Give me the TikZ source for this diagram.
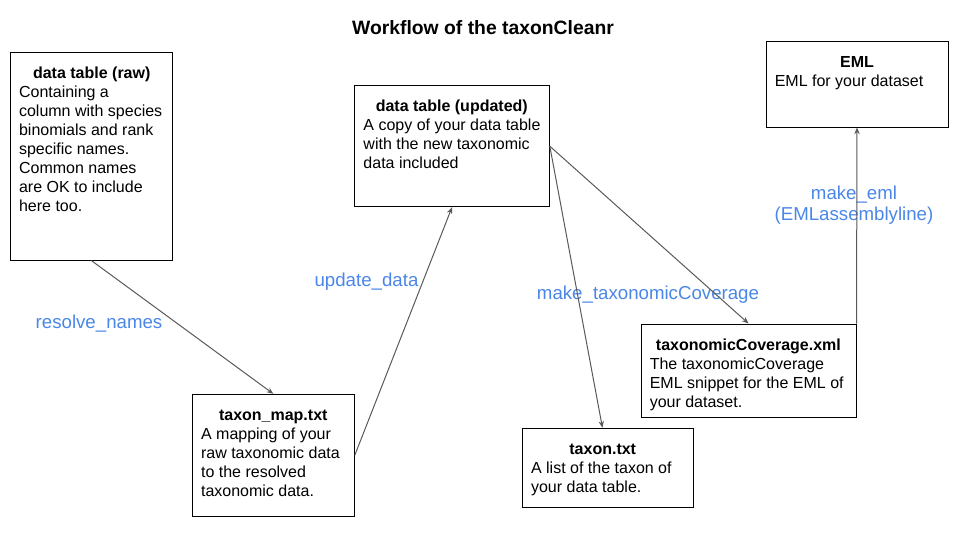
\documentclass[tikz,border=0pt]{standalone}
\usepackage{fontspec}
\setmainfont{Liberation Sans}
\usetikzlibrary{arrows.meta,fit}
\definecolor{fnblue}{RGB}{74,134,232}
\definecolor{edgegray}{RGB}{89,89,89}
\tikzset{
  box/.style={draw, line width=0.75pt, inner sep=0pt},
  txt/.style={anchor=north west, inner sep=0pt, align=left,
    font=\fontsize{12pt}{14.25pt}\selectfont},
  lbl/.style={text=fnblue, inner sep=0pt, align=center,
    font=\fontsize{14pt}{15.75pt}\selectfont},
  edge/.style={draw=edgegray, line width=0.75pt,
    -{Stealth[length=5pt,width=4pt]}}
}
\begin{document}
\begin{tikzpicture}[x=0.75pt, y=-0.75pt]
  \useasboundingbox (0,0) rectangle (960,540);
  \node[font=\fontsize{14.5pt}{17pt}\selectfont\bfseries] (title) at (483,28) {Workflow of the taxonCleanr};
  % boxes
  \node[box, fit={(10.3,52.3) (172.3,260)}] (raw) {};
  \node[box, fit={(354.7,85.7) (549.3,206.7)}] (updated) {};
  \node[box, fit={(192.3,394.3) (354.3,516)}] (map) {};
  \node[box, fit={(522.3,428.3) (693.3,507.3)}] (taxon) {};
  \node[box, fit={(641,324) (856,417)}] (taxcov) {};
  \node[box, fit={(766,41) (948,127)}] (eml) {};
  % box texts
  \node[txt] (rawtxt) at ([shift={(9,13)}]raw.north west)
    {\makebox[109pt]{\strut\bfseries data table (raw)}\\
     Containing a\\ column with species\\ binomials and rank\\
     specific names.\\ Common names\\ are OK to include\\ here too.};
  \node[txt] (updatedtxt) at ([shift={(9,13)}]updated.north west)
    {\makebox[132.5pt]{\strut\bfseries data table (updated)}\\
     A copy of your data table\\ with the new taxonomic\\ data included};
  \node[txt] (maptxt) at ([shift={(9,13)}]map.north west)
    {\makebox[108.3pt]{\strut\bfseries taxon\_map.txt}\\
     A mapping of your\\ raw taxonomic data\\ to the resolved\\ taxonomic data.};
  \node[txt] (taxontxt) at ([shift={(9,13)}]taxon.north west)
    {\makebox[107.5pt]{\strut\bfseries taxon.txt}\\
     A list of the taxon of\\ your data table.};
  \node[txt] (taxcovtxt) at ([shift={(9,13)}]taxcov.north west)
    {\makebox[148pt]{\strut\bfseries taxonomicCoverage.xml}\\
     The taxonomicCoverage\\ EML snippet for the EML of\\ your dataset.};
  \node[txt] (emltxt) at ([shift={(9,13)}]eml.north west)
    {\makebox[123.3pt]{\strut\bfseries EML}\\
     EML for your dataset};
  % function labels
  \node[lbl] (resolve) at (99,324) {resolve\_names};
  \node[lbl] (update) at (366.5,282) {update\_data};
  \node[lbl] (maketax) at (648,295) {make\_taxonomicCoverage};
  \node[lbl] (makeeml) at (854,205) {make\_eml\\(EMLassemblyline)};
  \begin{scope}[edge]
    \draw (raw.south) to (map.north);
    \draw (map.east) to (updated.south);
    \draw (updated.east) to (taxcov.north);
    \draw (updated.east) to ([xshift=-4pt]taxon.north);
    \draw (taxcov.north east) to (eml.south);
  \end{scope}
\end{tikzpicture}
\end{document}
